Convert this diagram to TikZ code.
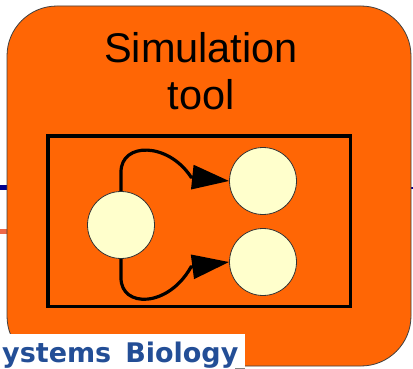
\documentclass[tikz,border=0pt]{standalone}
\usepackage{fontspec}
\setmainfont{Liberation Sans}
\newfontfamily\dvfont{DejaVu Sans}
\usetikzlibrary{arrows.meta}
\definecolor{boxorange}{RGB}{255,102,5}
\definecolor{cellfill}{RGB}{255,255,204}
\definecolor{sbblue}{RGB}{35,78,150}
\definecolor{navymark}{RGB}{0,0,140}
\definecolor{salmonmark}{RGB}{238,104,72}
\tikzset{
  cell/.style={circle, draw=black!80, line width=0.8pt, fill=cellfill, minimum size=67pt, inner sep=0pt},
  flow/.style={line width=3.2pt, -{Triangle[length=37pt,width=24pt]}},
  title/.style={font=\fontsize{41.5}{47}\selectfont, anchor=base, inner sep=0pt}
}
\begin{document}
\begin{tikzpicture}[x=1pt,y=-1pt]
\useasboundingbox (0,0) rectangle (413,369);
\fill[white] (0,0) rectangle (413,369);
% edge marks
\fill[navymark] (0,185) rectangle (7,190);
\fill[salmonmark] (0,229) rectangle (9,234);
\fill[navymark] (411,187) rectangle (413,189);
% main box
\draw[fill=boxorange, draw=black!75, line width=0.8pt, rounded corners=50pt] (7,6) rectangle (411,366);
\node[title] (t1) at (201,63) {Simulation};
\node[title] (t2) at (201,110) {tool};
% inner frame
\draw[line width=3.6pt] (47.8,136.1) rectangle (350.5,306.5);
% cells
\node[cell] (l) at (121,225) {};
\node[cell] (a) at (263,181) {};
\node[cell] (b) at (263,262) {};
\coordinate (ua) at (191,177);
\coordinate (ub) at (191,267);
\draw[flow] (l.north) -- (121,172) .. controls (121,142) and (168,142) .. (ua) -- (a.west);
\draw[flow] (l.south) -- (121,278) .. controls (121,308) and (168,308) .. (ub) -- (b.west);
% bottom banner
\fill[white] (0,334) rectangle (245,369);
\draw[black!50, line width=0.8pt] (235,368) -- (245,368);
\node[anchor=base west, inner sep=0pt, text=sbblue, font=\dvfont\bfseries\fontsize{27}{30}\selectfont] (sb) at (2,362.5) {ystems\hspace{14pt}Biology};
\end{tikzpicture}
\end{document}
